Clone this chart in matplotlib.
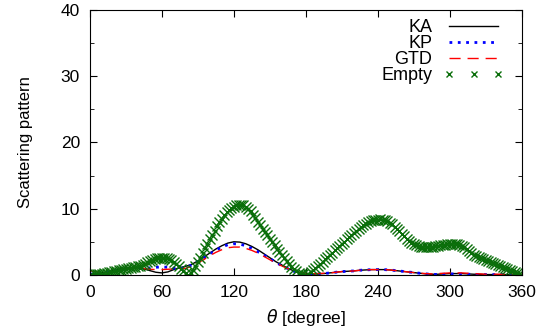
import numpy as np
import matplotlib.pyplot as plt
from matplotlib.ticker import MultipleLocator

plt.rcParams['font.family'] = ['Liberation Sans', 'DejaVu Sans']

# angles for the line curves (every 5 degrees)
theta = np.arange(0, 361, 5)

ka = [0.1, 0.2, 0.35, 0.5, 0.7, 0.9, 1.05, 1.1, 1.05, 0.9, 0.65, 0.4, 0.3,
      0.45, 0.8, 1.1, 1.3, 1.6, 2.1, 2.7, 3.3, 3.9, 4.4, 4.8, 5.0, 4.95,
      4.7, 4.3, 3.8, 3.2, 2.6, 2.0, 1.5, 1.0, 0.6, 0.3, 0.1, 0.1, 0.15,
      0.2, 0.3, 0.4, 0.5, 0.55, 0.6, 0.7, 0.75, 0.8, 0.8, 0.8, 0.75, 0.65,
      0.55, 0.45, 0.35, 0.25, 0.15, 0.1, 0.1, 0.15, 0.2, 0.2, 0.2, 0.15,
      0.1, 0.1, 0.05, 0.05, 0.05, 0.05, 0.05, 0.05, 0.05]

kp = [0.1, 0.2, 0.3, 0.45, 0.6, 0.75, 0.85, 0.9, 0.95, 1.0, 1.05, 1.15, 1.2,
      1.15, 1.0, 0.95, 1.1, 1.5, 2.0, 2.6, 3.2, 3.7, 4.2, 4.55, 4.7, 4.65,
      4.4, 4.0, 3.5, 3.0, 2.45, 1.9, 1.4, 0.95, 0.55, 0.3, 0.15, 0.1, 0.15,
      0.2, 0.3, 0.4, 0.5, 0.55, 0.6, 0.7, 0.75, 0.8, 0.8, 0.8, 0.75, 0.65,
      0.55, 0.45, 0.35, 0.25, 0.15, 0.1, 0.05, 0.1, 0.15, 0.15, 0.15, 0.1,
      0.1, 0.05, 0.05, 0.05, 0.05, 0.05, 0.05, 0.05, 0.05]

gtd = [0.6, 0.5, 0.4, 0.4, 0.5, 0.7, 0.9, 1.0, 1.0, 0.95, 0.85, 0.8, 0.8,
       0.85, 0.9, 0.9, 1.0, 1.3, 1.8, 2.3, 2.9, 3.4, 3.8, 4.1, 4.2, 4.2,
       4.0, 3.7, 3.3, 2.8, 2.3, 1.8, 1.35, 0.95, 0.6, 0.4, 0.3, 0.2, 0.2,
       0.25, 0.3, 0.4, 0.5, 0.55, 0.6, 0.7, 0.75, 0.8, 0.8, 0.8, 0.75, 0.65,
       0.55, 0.45, 0.35, 0.25, 0.2, 0.15, 0.2, 0.25, 0.3, 0.3, 0.3, 0.25,
       0.2, 0.15, 0.1, 0.1, 0.1, 0.1, 0.1, 0.1, 0.1]

# empty case, every 2 degrees (one row = 20 degrees)
theta_e = np.arange(0, 361, 2)
empty = [0.0, 0.03, 0.07, 0.1, 0.15, 0.2, 0.27, 0.33, 0.4, 0.47,
         0.53, 0.62, 0.72, 0.8, 0.87, 0.93, 1.0, 1.07, 1.13, 1.2,
         1.3, 1.4, 1.55, 1.72, 1.88, 2.05, 2.22, 2.38, 2.5, 2.57,
         2.6, 2.6, 2.53, 2.4, 2.2, 1.93, 1.6, 1.27, 0.9, 0.55,
         0.25, 0.05, 0.25, 0.7, 1.3, 1.95, 2.6, 3.3, 4.0, 4.7,
         5.4, 6.05, 6.7, 7.35, 7.95, 8.5, 9.0, 9.45, 9.8, 10.1,
         10.3, 10.5, 10.6, 10.6, 10.5, 10.3, 10.0, 9.6, 9.1, 8.55,
         8.0, 7.5, 7.0, 6.45, 5.95, 5.45, 4.95, 4.45, 3.95, 3.45,
         2.95, 2.5, 2.05, 1.65, 1.25, 0.9, 0.6, 0.35, 0.17, 0.07,
         0.05, 0.2, 0.45, 0.75, 1.05, 1.35, 1.65, 2.0, 2.35, 2.65,
         3.0, 3.35, 3.7, 4.0, 4.35, 4.7, 5.0, 5.35, 5.7, 6.0,
         6.35, 6.65, 6.95, 7.25, 7.5, 7.75, 7.95, 8.1, 8.22, 8.3,
         8.35, 8.38, 8.35, 8.25, 8.1, 7.9, 7.65, 7.3, 6.95, 6.6,
         6.2, 5.8, 5.45, 5.1, 4.8, 4.6, 4.45, 4.35, 4.27, 4.22,
         4.2, 4.19, 4.2, 4.24, 4.3, 4.37, 4.45, 4.52, 4.58, 4.62,
         4.65, 4.66, 4.65, 4.6, 4.5, 4.35, 4.15, 3.9, 3.6, 3.3,
         3.05, 2.9, 2.75, 2.6, 2.45, 2.3, 2.15, 2.0, 1.85, 1.68,
         1.5, 1.35, 1.2, 1.05, 0.9, 0.75, 0.6, 0.45, 0.3, 0.15,
         0.0]

fig = plt.figure(figsize=(5.51, 3.32), dpi=100)
ax = fig.add_axes([0.163, 0.172, 0.784, 0.798])

ax.plot(theta, ka, color='black', lw=1.0, label='KA')
ax.plot(theta, kp, color='blue', lw=2.0, linestyle=(0, (1, 2)), label='KP')
ax.plot(theta, gtd, color='red', lw=1.0, linestyle=(0, (8, 5)), label='GTD')
ax.plot(theta_e, empty, color='#0a6e0a', linestyle='none', marker='x',
        markersize=7.5, markeredgewidth=1.0, label='Empty')

ax.set_xlim(0, 360)
ax.set_ylim(0, 40)
ax.set_xticks(np.arange(0, 361, 60))
ax.set_yticks(np.arange(0, 41, 10))
ax.yaxis.set_minor_locator(MultipleLocator(5))
ax.tick_params(which='both', direction='in', top=True, right=True,
               labelsize=12.5, pad=7)
ax.tick_params(which='major', length=5)
ax.tick_params(which='minor', length=3)

ax.set_xlabel(r'$\theta$ [degree]', fontsize=12.5, labelpad=5)
ax.set_ylabel('Scattering pattern', fontsize=12, labelpad=20)

leg = ax.legend(loc='upper right', frameon=False, fontsize=13, numpoints=3,
                handlelength=3.35, markerfirst=False, labelspacing=-0.06,
                handletextpad=0.6, borderaxespad=0.0,
                bbox_to_anchor=(0.975, 0.992))
leg.legend_handles[3].set_markersize(5)

fig.savefig('out.png', dpi=100)
